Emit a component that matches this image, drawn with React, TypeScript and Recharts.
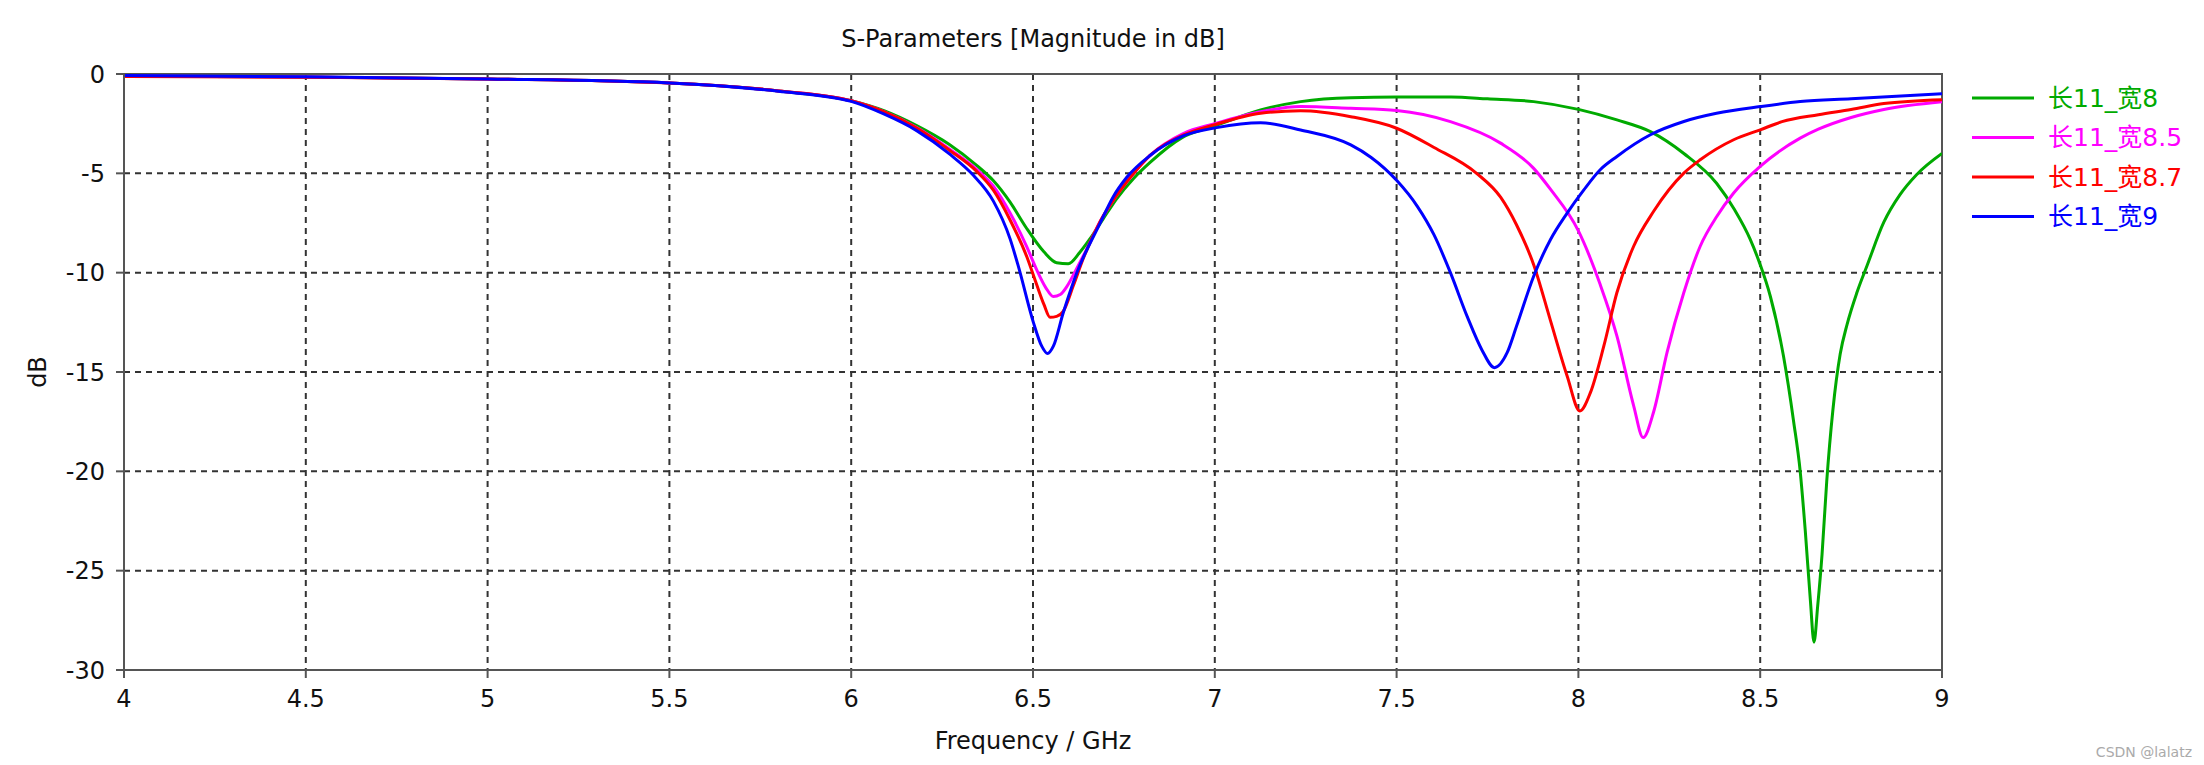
import { LineChart, Line, XAxis, YAxis, CartesianGrid, ReferenceArea, Label } from 'recharts';

// frequency ticks (GHz) and magnitude ticks (dB)
const xTicks = [4, 4.5, 5, 5.5, 6, 6.5, 7, 7.5, 8, 8.5, 9];
const yTicks = [0, -5, -10, -15, -20, -25, -30];

// [frequency GHz, S11 dB]
const width8: [number, number][] = [
    [4.0, -0.1], [4.5, -0.15], [5.0, -0.25], [5.5, -0.45], [5.8, -0.85], [6.0, -1.35],
    [6.09, -1.85], [6.18, -2.6], [6.27, -3.55], [6.345, -4.6], [6.39, -5.35], [6.437, -6.45],
    [6.48, -7.7], [6.53, -8.95], [6.565, -9.5], [6.597, -9.55], [6.629, -8.97], [6.657, -8.29],
    [6.693, -7.29], [6.73, -6.28], [6.776, -5.27], [6.822, -4.45], [6.91, -3.2], [7.0, -2.62],
    [7.126, -1.81], [7.236, -1.39], [7.374, -1.19], [7.5, -1.16], [7.65, -1.16], [7.75, -1.25],
    [7.877, -1.39], [8.0, -1.78], [8.106, -2.31], [8.198, -2.9], [8.29, -4.0], [8.38, -5.5],
    [8.43, -6.85], [8.472, -8.3], [8.5, -9.6], [8.528, -11.2], [8.564, -14.2], [8.592, -17.5],
    [8.61, -20.0], [8.624, -23.0], [8.638, -26.5], [8.648, -28.6], [8.658, -26.8], [8.67, -24.2],
    [8.683, -20.5], [8.7, -16.9], [8.72, -14.1], [8.739, -12.6], [8.766, -11.0], [8.794, -9.64],
    [8.84, -7.46], [8.885, -6.06], [8.93, -5.07], [9.0, -4.0],
];

const width85: [number, number][] = [
    [4.0, -0.1], [4.5, -0.15], [5.0, -0.25], [5.5, -0.45], [5.8, -0.85], [6.0, -1.35],
    [6.09, -1.9], [6.18, -2.7], [6.272, -3.8], [6.345, -4.8], [6.391, -5.65], [6.437, -7.0],
    [6.483, -8.7], [6.51, -9.85], [6.535, -10.75], [6.556, -11.2], [6.575, -11.1], [6.593, -10.7],
    [6.62, -9.8], [6.648, -8.8], [6.684, -7.45], [6.73, -6.11], [6.776, -5.02], [6.822, -4.1],
    [6.913, -3.0], [7.0, -2.5], [7.126, -1.9], [7.236, -1.64], [7.374, -1.73], [7.5, -1.84],
    [7.648, -2.4], [7.786, -3.48], [7.877, -4.75], [7.923, -5.8], [8.0, -7.9], [8.06, -10.6],
    [8.106, -13.19], [8.152, -16.7], [8.178, -18.3], [8.207, -17.0], [8.244, -14.0], [8.29, -11.0],
    [8.335, -8.67], [8.381, -7.16], [8.427, -5.99], [8.5, -4.65], [8.61, -3.23], [8.66, -2.78],
    [8.75, -2.19], [8.84, -1.79], [9.0, -1.4],
];

const width87: [number, number][] = [
    [4.0, -0.12], [4.5, -0.16], [5.0, -0.25], [5.5, -0.45], [5.8, -0.85], [6.0, -1.35],
    [6.09, -1.9], [6.18, -2.72], [6.272, -3.86], [6.345, -4.9], [6.391, -5.85], [6.437, -7.35],
    [6.483, -9.2], [6.51, -10.6], [6.53, -11.6], [6.547, -12.25], [6.565, -12.2], [6.583, -11.95],
    [6.611, -10.65], [6.638, -9.3], [6.684, -7.45], [6.73, -6.11], [6.776, -5.02], [6.822, -4.1],
    [6.913, -3.08], [7.0, -2.55], [7.126, -1.98], [7.236, -1.85], [7.374, -2.15], [7.5, -2.73],
    [7.603, -3.7], [7.72, -5.0], [7.786, -6.2], [7.83, -7.6], [7.877, -9.6], [7.923, -12.4],
    [7.969, -15.2], [8.004, -16.96], [8.033, -16.04], [8.07, -13.69], [8.106, -11.0], [8.152, -8.67],
    [8.207, -6.91], [8.29, -4.99], [8.335, -4.32], [8.427, -3.31], [8.5, -2.81], [8.56, -2.4],
    [8.66, -2.05], [8.75, -1.79], [8.84, -1.49], [9.0, -1.29],
];

const width9: [number, number][] = [
    [4.0, -0.08], [4.5, -0.14], [5.0, -0.25], [5.5, -0.45], [5.8, -0.87], [6.0, -1.38],
    [6.088, -2.0], [6.18, -2.85], [6.272, -4.05], [6.336, -5.1], [6.391, -6.4], [6.437, -8.3],
    [6.46, -9.7], [6.501, -12.5], [6.524, -13.7], [6.54, -14.07], [6.556, -13.7], [6.583, -12.03],
    [6.62, -10.03], [6.684, -7.53], [6.72, -6.2], [6.758, -5.2], [6.822, -4.1], [6.913, -3.12],
    [7.005, -2.7], [7.126, -2.45], [7.236, -2.82], [7.374, -3.57], [7.43, -4.2], [7.5, -5.35],
    [7.557, -6.66], [7.603, -8.1], [7.648, -10.0], [7.694, -12.2], [7.735, -13.9], [7.769, -14.78],
    [7.804, -14.03], [7.83, -12.69], [7.877, -10.18], [7.923, -8.34], [7.969, -7.0], [8.015, -5.83],
    [8.06, -4.82], [8.106, -4.15], [8.198, -3.06], [8.29, -2.39], [8.38, -1.98], [8.5, -1.64],
    [8.61, -1.39], [8.75, -1.25], [9.0, -1.0],
];

const series = [
    { name: '长11_宽8', color: '#00aa00', points: width8 },
    { name: '长11_宽8.5', color: '#ff00ff', points: width85 },
    { name: '长11_宽8.7', color: '#ff0000', points: width87 },
    { name: '长11_宽9', color: '#0000ff', points: width9 },
];

const FONT = "'DejaVu Sans', 'Noto Sans CJK SC', sans-serif";
const AXIS = '#555';

const toRows = (pts: [number, number][]) => pts.map(([f, db]) => ({ f, db }));

export default function App() {
    return (
        <div style={{ position: 'absolute', left: 0, top: 0, width: 2204, height: 765, background: '#fff', fontFamily: FONT }}>
            <LineChart width={2204} height={765} margin={{ top: 74, right: 262, bottom: 10, left: 10 }}>
                <CartesianGrid stroke="#333" strokeWidth={2} strokeDasharray="6 5" />
                <XAxis
                    dataKey="f"
                    type="number"
                    domain={[4, 9]}
                    ticks={xTicks}
                    allowDataOverflow
                    height={85}
                    stroke={AXIS}
                    strokeWidth={2}
                    tickSize={8}
                    tickMargin={12}
                    tick={{ fill: '#111', fontSize: 24 }}
                >
                    <Label
                        content={({ viewBox }: any) => (
                            <text
                                x={viewBox.x + viewBox.width / 2}
                                y={viewBox.y + 71}
                                textAnchor="middle"
                                dominantBaseline="central"
                                fontSize={24}
                                fill="#111"
                            >
                                Frequency / GHz
                            </text>
                        )}
                    />
                </XAxis>
                <YAxis
                    type="number"
                    domain={[-30, 0]}
                    ticks={yTicks}
                    allowDataOverflow
                    width={114}
                    stroke={AXIS}
                    strokeWidth={2}
                    tickSize={8}
                    tickMargin={11}
                    tick={{ fill: '#111', fontSize: 24 }}
                >
                    <Label
                        content={({ viewBox }: any) => {
                            const x = viewBox.x + 28;
                            const y = viewBox.y + viewBox.height / 2;
                            return (
                                <text
                                    x={x}
                                    y={y}
                                    transform={`rotate(-90 ${x} ${y})`}
                                    textAnchor="middle"
                                    dominantBaseline="central"
                                    fontSize={24}
                                    fill="#111"
                                >
                                    dB
                                </text>
                            );
                        }}
                    />
                </YAxis>
                <ReferenceArea x1={4} x2={9} y1={-30} y2={0} fill="none" stroke={AXIS} strokeWidth={2} />
                {series.map((s) => (
                    <Line
                        key={s.name}
                        data={toRows(s.points)}
                        dataKey="db"
                        name={s.name}
                        type="monotone"
                        stroke={s.color}
                        strokeWidth={3}
                        dot={false}
                        isAnimationActive={false}
                    />
                ))}
            </LineChart>

            {/* title, legend and watermark */}
            <svg width={2204} height={765} style={{ position: 'absolute', left: 0, top: 0, pointerEvents: 'none' }}>
                <text x={1033} y={39} textAnchor="middle" dominantBaseline="central" fontSize={24} fill="#111">
                    S-Parameters [Magnitude in dB]
                </text>
                {series.map((s, i) => (
                    <g key={s.name}>
                        <line x1={1972} x2={2034} y1={98 + i * 39.5} y2={98 + i * 39.5} stroke={s.color} strokeWidth={3} />
                        <text x={2048} y={98 + i * 39.5} dominantBaseline="central" fontSize={25} fill={s.color}>
                            {s.name}
                        </text>
                    </g>
                ))}
                <text x={2192} y={752} textAnchor="end" dominantBaseline="central" fontSize={14} fill="#aaa">
                    CSDN @lalatz
                </text>
            </svg>
        </div>
    );
}
